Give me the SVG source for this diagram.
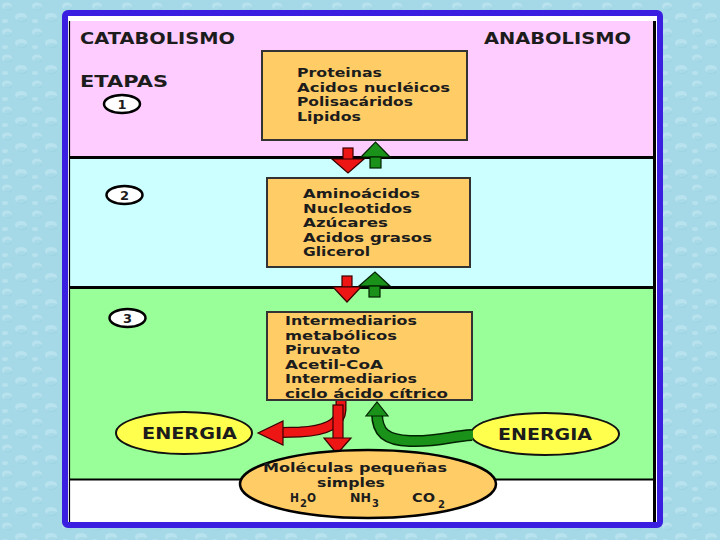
<svg xmlns="http://www.w3.org/2000/svg" width="720" height="540" viewBox="0 0 720 540">
<defs>
<pattern id="water" width="30" height="26" patternUnits="userSpaceOnUse">
<rect width="30" height="26" fill="#a6d9e7"/>
<ellipse cx="7" cy="6" rx="5" ry="3.5" fill="#c9ecf4" opacity="0.5"/>
<ellipse cx="8" cy="8" rx="4" ry="2.5" fill="#8ccbdd" opacity="0.35"/>
<ellipse cx="21" cy="17" rx="6" ry="4" fill="#c9ecf4" opacity="0.5"/>
<ellipse cx="22" cy="19.5" rx="5" ry="2.5" fill="#8ccbdd" opacity="0.35"/>
<ellipse cx="5" cy="21" rx="3" ry="2" fill="#cdeef5" opacity="0.4"/>
</pattern>
<style>
.t{font-family:"DejaVu Sans",Verdana,"Liberation Sans",sans-serif;font-weight:bold;fill:#1c1c1c;}
.box{fill:#ffcc66;stroke:#333;stroke-width:2;}
.bt{font-size:12.5px;}
.hd{font-size:15px;}
.num{font-size:13px;text-anchor:middle;}
.circ{fill:#fff;stroke:#000;stroke-width:2.5;}
.en{fill:#ffff4d;stroke:#111;stroke-width:2;}
.red{fill:#ee1515;stroke:#3a0000;stroke-width:1.2;}
.grn{fill:#1a921a;stroke:#002200;stroke-width:1.2;}
</style>
</defs>
<rect width="720" height="540" fill="url(#water)"/>
<!-- frame -->
<rect x="65" y="13" width="595" height="512" rx="3" fill="#fff" stroke="#3b1fe0" stroke-width="6"/>
<rect x="70" y="21" width="584" height="136" fill="#ffccff"/>
<rect x="70" y="159" width="584" height="128" fill="#ccffff"/>
<rect x="70" y="289" width="584" height="190" fill="#99ff99"/>
<g stroke="#000" fill="none">
<line x1="69" y1="157.5" x2="656" y2="157.5" stroke-width="3"/>
<line x1="69" y1="287.5" x2="656" y2="287.5" stroke-width="3"/>
<line x1="69" y1="479.5" x2="656" y2="479.5" stroke-width="2"/>
<line x1="654.5" y1="21" x2="654.5" y2="522" stroke-width="3"/>
<line x1="69.5" y1="21" x2="69.5" y2="522" stroke-width="1.2"/>
</g>
<g id="labels">
<text class="t hd" x="80" y="44" textLength="155" lengthAdjust="spacingAndGlyphs">CATABOLISMO</text>
<text class="t hd" x="484" y="44" textLength="147" lengthAdjust="spacingAndGlyphs">ANABOLISMO</text>
<text class="t hd" x="80" y="87" textLength="88" lengthAdjust="spacingAndGlyphs">ETAPAS</text>
</g>
<g id="stage1"><ellipse class="circ" cx="122" cy="104" rx="18" ry="9"/><text class="t num" x="122" y="109">1</text></g>
<g id="stage2"><ellipse class="circ" cx="124.5" cy="195" rx="18" ry="9"/><text class="t num" x="124.5" y="200">2</text></g>
<g id="stage3"><ellipse class="circ" cx="127.5" cy="318" rx="18" ry="9"/><text class="t num" x="127.5" y="323">3</text></g>
<g id="box1">
<rect class="box" x="262" y="51" width="205" height="89"/>
<text class="t bt" x="297" y="77" textLength="85" lengthAdjust="spacingAndGlyphs">Proteinas</text>
<text class="t bt" x="297" y="92" textLength="153" lengthAdjust="spacingAndGlyphs">Acidos nucléicos</text>
<text class="t bt" x="297" y="106" textLength="116" lengthAdjust="spacingAndGlyphs">Polisacáridos</text>
<text class="t bt" x="297" y="120.5" textLength="64" lengthAdjust="spacingAndGlyphs">Lipidos</text>
</g>
<g id="box2">
<rect class="box" x="267" y="178" width="203" height="89"/>
<text class="t bt" x="303" y="198" textLength="117" lengthAdjust="spacingAndGlyphs">Aminoácidos</text>
<text class="t bt" x="303" y="212.5" textLength="109" lengthAdjust="spacingAndGlyphs">Nucleotidos</text>
<text class="t bt" x="303" y="227" textLength="85" lengthAdjust="spacingAndGlyphs">Azúcares</text>
<text class="t bt" x="303" y="241.5" textLength="129" lengthAdjust="spacingAndGlyphs">Acidos grasos</text>
<text class="t bt" x="303" y="256" textLength="67" lengthAdjust="spacingAndGlyphs">Glicerol</text>
</g>
<g id="box3">
<rect class="box" x="267" y="312" width="205" height="88"/>
<text class="t bt" x="285" y="325" textLength="132" lengthAdjust="spacingAndGlyphs">Intermediarios</text>
<text class="t bt" x="285" y="339.5" textLength="112" lengthAdjust="spacingAndGlyphs">metabólicos</text>
<text class="t bt" x="285" y="354" textLength="75" lengthAdjust="spacingAndGlyphs">Piruvato</text>
<text class="t bt" x="285" y="368.5" textLength="98" lengthAdjust="spacingAndGlyphs">Acetil-CoA</text>
<text class="t bt" x="285" y="383" textLength="132" lengthAdjust="spacingAndGlyphs">Intermediarios</text>
<text class="t bt" x="285" y="397.5" textLength="163" lengthAdjust="spacingAndGlyphs">ciclo ácido cítrico</text>
</g>
<g id="energia-left">
<ellipse class="en" cx="184" cy="433" rx="68" ry="21"/>
<text class="t" x="142" y="439" font-size="15" textLength="95" lengthAdjust="spacingAndGlyphs">ENERGIA</text>
</g>
<g id="energia-right">
<ellipse class="en" cx="545" cy="434" rx="74" ry="21"/>
<text class="t" x="498" y="440" font-size="15" textLength="94" lengthAdjust="spacingAndGlyphs">ENERGIA</text>
</g>
<g id="connectors">
<rect class="red" x="343" y="148" width="10" height="12"/>
<polygon class="red" points="332,159 364,159 348,173"/>
<polygon class="grn" points="361,157 390,157 375.5,142"/>
<rect class="grn" x="370" y="157" width="11" height="11"/>
<rect class="red" x="342" y="276" width="10" height="11"/>
<polygon class="red" points="333,287 361,287 347,302"/>
<polygon class="grn" points="359,286 390,286 375,272"/>
<rect class="grn" x="369" y="286" width="11" height="11"/>
<path d="M341 401 L341 410 Q340 430 300 432 L282 432.5" fill="none" stroke="#3a0000" stroke-width="11"/>
<path d="M341 401 L341 410 Q340 430 300 432 L281 432.5" fill="none" stroke="#ee1515" stroke-width="8.5"/>
<polygon class="red" points="283,421 283,445 258,433"/>
<rect class="red" x="333" y="405" width="10" height="34"/>
<polygon class="red" points="324,438 351,438 337,454"/>
<path d="M377 413 C377 433 386 440 410 441 C440 442 450 436 472 435" fill="none" stroke="#002200" stroke-width="12"/>
<path d="M377 412 C377 433 386 440 410 441 C440 442 450 436 473 435" fill="none" stroke="#1a921a" stroke-width="9"/>
<polygon class="grn" points="366,416 388,416 377,402"/>
</g>
<g id="molecules">
<ellipse cx="368" cy="484" rx="128" ry="34" fill="#ffcc66" stroke="#000" stroke-width="2.5"/>
<text class="t bt" x="263" y="472" textLength="184" lengthAdjust="spacingAndGlyphs">Moléculas pequeñas</text>
<text class="t bt" x="317" y="487" textLength="68" lengthAdjust="spacingAndGlyphs">simples</text>
<text class="t bt" x="290" y="502" textLength="9" lengthAdjust="spacingAndGlyphs">H</text>
<text class="t" x="300" y="507" font-size="10">2</text>
<text class="t bt" x="307" y="502" textLength="9" lengthAdjust="spacingAndGlyphs">O</text>
<text class="t bt" x="350" y="502" textLength="21" lengthAdjust="spacingAndGlyphs">NH</text>
<text class="t" x="372" y="507" font-size="10">3</text>
<text class="t bt" x="412" y="502" textLength="23" lengthAdjust="spacingAndGlyphs">CO</text>
<text class="t" x="438" y="508" font-size="10">2</text>
</g>
</svg>
